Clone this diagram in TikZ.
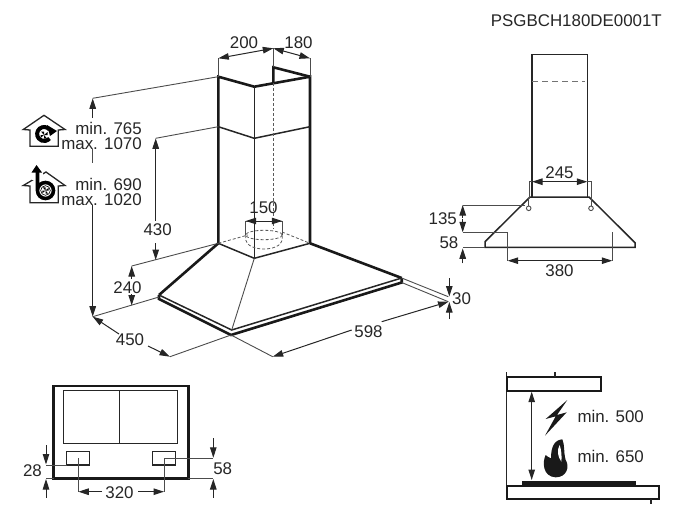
\documentclass[tikz,border=0pt]{standalone}
\usepackage{fontspec}
\setmainfont{Liberation Sans}
\usetikzlibrary{arrows.meta}

\begin{document}
\begin{tikzpicture}[x=1pt,y=-1pt,
    heavy/.style={line width=2.6pt, black!90, line join=miter},
    medium/.style={line width=1.5pt, black!85},
    thinl/.style={line width=0.9pt, black!70},
    hidden/.style={line width=0.8pt, black!65, dash pattern=on 3pt off 2pt},
    dim/.style={line width=1pt, black!85, arrows={Triangle[length=10.5pt,width=6.5pt]-Triangle[length=10.5pt,width=6.5pt]}},
    dimto/.style={line width=1pt, black!85, arrows={-Triangle[length=10.5pt,width=6.5pt]}},
    lab/.style={font=\fontsize{16.9}{14.2}\selectfont, text=black!85, inner sep=0pt}]
    \useasboundingbox (0,0) rectangle (675,530);

    \node[lab,anchor=east] (code) at (662,21) {PSGBCH180DE0001T};

    % hood, three quarter view
    \draw[heavy] (273.3,82.7) -- (273.3,67.3) -- (310,76.7);
    \draw[heavy] (310,243.3) -- (310,76.7) -- (254.3,86.7) -- (218.3,76.7) -- (218.3,243.3) -- (159,295);
    \draw[heavy] (310,243.3) -- (401.7,278);
    \draw[heavy] (159,295) -- (159,299) -- (231,335) -- (401.7,282.5) -- (401.7,278);
    \draw[medium] (159,295) -- (231.7,330) -- (401.7,278);
    \draw[medium] (218.3,126.7) -- (254.3,138.3) -- (310,126.7);
    \draw[medium] (254.3,86.7) -- (254.3,258.3);
    \draw[medium] (218.3,243.3) -- (254.3,258.3) -- (310,243.3);
    \draw[thinl] (254.3,258.3) -- (231.7,330);
    \draw[hidden] (273.3,83) -- (273.3,229);
    \draw[hidden] (218.3,243.3) -- (248,235);
    \draw[hidden] (282,232) -- (310,243.3);
    \draw[hidden] (264,235) ellipse (18.3 and 4.7);
    \draw[hidden] (245.7,235) -- (245.7,240) .. controls (248,252) and (280,252) .. (282.3,240) -- (282.3,235);
    \draw[thinl] (245.7,235) -- (245.7,221) -- (282.3,221) -- (282.3,235);
    \draw[dim] (245.7,221) -- (282.3,221);
    \node[lab] (d150) at (263.5,208) {150};

    % top widths
    \draw[thinl] (218.3,76.7) -- (218.3,58.3);
    \draw[thinl] (273.3,67.3) -- (273.3,48.3);
    \draw[thinl] (310,76.7) -- (310,58.3);
    \draw[dim] (218.3,58.3) -- (273.3,48.3);
    \draw[dim] (273.3,48.3) -- (310,58.3);
    \node[lab] (d200) at (244,43) {200};
    \node[lab] (d180) at (298.5,43) {180};

    % heights on the left
    \draw[thinl] (218.3,76.7) -- (92.7,98.3);
    \draw[thinl] (218.3,126.7) -- (155.7,138.3);
    \draw[thinl] (218.3,243.3) -- (131.7,266);
    \draw[thinl] (159,297) -- (92.7,316.7);
    \draw[dimto] (92.7,118) -- (92.7,98.3);
    \draw[thinl] (92.7,149) -- (92.7,163);
    \draw[dimto] (92.7,205) -- (92.7,316.7);
    \draw[dimto] (155.7,221) -- (155.7,138.3);
    \draw[dimto] (155.7,243) -- (155.7,260);
    \draw[dimto] (131.7,279) -- (131.7,266);
    \draw[dimto] (131.7,294) -- (131.7,305.5);
    \node[lab] (d430) at (157.7,230) {430};
    \node[lab] (d240) at (127.5,287.5) {240};
    \node[lab,anchor=north east,align=right] (recirc) at (142,122.5) {min. 765\\max. 1070};
    \node[lab,anchor=north east,align=right] (extract) at (142,178.5) {min. 690\\max. 1020};

    % recirculation house
    \draw[line width=1.3pt, black!85] (30,146.3) -- (30,130) -- (23.3,129.5) -- (44,115.3) -- (65,129.5) -- (58.3,130) -- (58.3,146.3) -- cycle;
    \draw[line width=4pt] (49.5,129.5) arc[start angle=-40, end angle=-320, radius=7];
    \fill (47,125) -- (57,131) -- (50,136) -- cycle;
    \foreach \a in {0,90,180,270}
      \fill[rotate around={\a:(44,135)}] (44,135) -- (47.5,132) -- (47.5,135) -- cycle;

    % extraction house
    \draw[line width=1.3pt, black!85] (30,202.7) -- (30,186) -- (23.3,185.5) -- (46,172) -- (65,185.5) -- (58.3,186) -- (58.3,202.7) -- cycle;
    \fill[white] (32,172) rectangle (43,180);
    \draw[line width=3.6pt] (37.5,171) -- (37.5,190.5) arc[start angle=180, end angle=-180, radius=8];
    \fill (31.5,172.5) -- (36.5,165) -- (42,172.5) -- cycle;
    \draw[line width=0.6pt] (45.5,190.5) circle (4.8);
    \foreach \a in {0,90,180,270}
      \fill[rotate around={\a:(45.5,190.5)}] (45.5,190.5) -- (48.7,187.7) -- (48.7,190.5) -- cycle;

    % depth and width
    \draw[thinl] (231,335) -- (170,356.7);
    \draw[thinl] (231,335) -- (272.7,356.7);
    \draw[dimto] (119,334) -- (92.7,316.7);
    \draw[dimto] (148,346) -- (170,356.7);
    \node[lab] (d450) at (130,340) {450};
    \draw[dimto] (351.7,330) -- (272.7,356.7);
    \draw[dimto] (381.7,321.7) -- (448.5,301.7);
    \node[lab] (d598) at (368.5,332) {598};
    \draw[thinl] (401.7,278) -- (448.3,296.7);
    \draw[thinl] (401.7,282.5) -- (448.3,301.7);
    \draw[dimto] (449.3,278) -- (449.3,296.5);
    \draw[dimto] (449.3,319) -- (449.3,302);
    \node[lab] (d30) at (461.5,298.5) {30};

    % front view
    \draw[medium] (532,196.7) -- (532,54.7) -- (587.3,54.7) -- (587.3,196.7);
    \draw[line width=1.1pt, black!55, dash pattern=on 6pt off 4pt] (532,81.7) -- (585,81.7);
    \draw[medium] (530,197) -- (589,197) -- (635,242.7) -- (635,247.3) -- (485,247.3) -- (485,241.7) -- cycle;
    \draw[thinl] (532,181.7) -- (529,181.7) -- (529,198);
    \draw[thinl] (587.3,181.7) -- (591,181.7) -- (591,198);
    \draw[thinl] (528.7,198) -- (528.7,206);
    \draw[thinl] (591,198) -- (591,206);
    \draw[thinl] (528.7,208.3) circle (2.3);
    \draw[thinl] (591,208.3) circle (2.3);
    \draw[dim] (532,181.7) -- (587.3,181.7);
    \node[lab] (d245) at (559.5,172.5) {245};
    \draw[thinl] (463.3,205) -- (525,205);
    \draw[thinl] (463.3,232.3) -- (507.7,232.3) -- (507.7,260.7);
    \draw[thinl] (612.3,232) -- (612.3,260.7);
    \draw[thinl] (463.3,247.3) -- (485,247.3);
    \draw[dimto] (462.7,218) -- (462.7,205);
    \draw[dimto] (462.7,219) -- (462.7,232.3);
    \draw[dimto] (462.7,263.3) -- (462.7,248.3);
    \draw[dim] (507.7,260.7) -- (612.3,260.7);
    \node[lab,anchor=east] (d135) at (457,219) {135};
    \node[lab,anchor=east] (d58a) at (458.5,242.3) {58};
    \node[lab] (d380) at (559.5,270.7) {380};

    % plan from below
    \draw[line width=2.6pt, black!90] (53.7,386) rectangle (188.3,478.3);
    \draw[medium] (63.7,390.7) rectangle (177.7,443.3);
    \draw[medium] (119.7,390.7) -- (119.7,443.3);
    \draw[medium] (66.7,451.7) rectangle (89.3,465);
    \draw[medium] (152.7,451.7) rectangle (175.3,465);
    \draw[thinl] (46,465) -- (66.7,465);
    \draw[thinl] (46,478.3) -- (53.7,478.3);
    \draw[thinl] (188.3,478.3) -- (213.3,478.3);
    \draw[thinl] (164,458.3) -- (213.3,458.3);
    \draw[thinl] (78.3,458.3) -- (78.3,491.7);
    \draw[thinl] (164,458.3) -- (164,491.7);
    \draw[dimto] (46,445) -- (46,464.5);
    \draw[dimto] (46,497.7) -- (46,479);
    \draw[dimto] (213.3,438) -- (213.3,457.8);
    \draw[dimto] (213.3,497.7) -- (213.3,479);
    \draw[dimto] (102,491.7) -- (78.3,491.7);
    \draw[dimto] (138,491.7) -- (164,491.7);
    \node[lab] (d28) at (32.5,470.7) {28};
    \node[lab] (d58b) at (222.7,468.3) {58};
    \node[lab] (d320) at (119.5,492.7) {320};

    % clearance over the hob
    \draw[medium] (506.7,372.3) -- (506.7,500);
    \draw[line width=2pt, black!90] (506.7,377.3) rectangle (600.7,391);
    \draw[medium] (555,372.3) -- (555,377.3);
    \draw[dim] (531.7,391.7) -- (531.7,480);
    \fill[black!90] (521.7,481) rectangle (636,486);
    \draw[line width=2pt, black!90] (506.7,485.7) rectangle (659.3,499.3);
    \draw[medium] (651,499.3) -- (651,504);
    \begin{scope}[shift={(535,395)},scale=1/3]
      \fill[black!90] (97,15) -- (32,72) -- (62,64) -- (30,122) -- (95,52) -- (66,60) -- cycle;
      \fill[black!90] (82,133) .. controls (90,150) and (85,170) .. (92,195)
        .. controls (105,215) and (95,247) .. (62,247) .. controls (22,245) and (22,200) .. (32,180)
        .. controls (36,184) and (42,188) .. (48,190) .. controls (48,155) and (58,135) .. (82,133);
      \fill[white] (74,150) .. controls (65,165) and (68,185) .. (79,200) .. controls (81,185) and (79,165) .. (74,150);
    \end{scope}
    \node[lab,anchor=west] (m500) at (577.3,416.7) {min. 500};
    \node[lab,anchor=west] (m650) at (577.3,456) {min. 650};
  \end{tikzpicture}
\end{document}
